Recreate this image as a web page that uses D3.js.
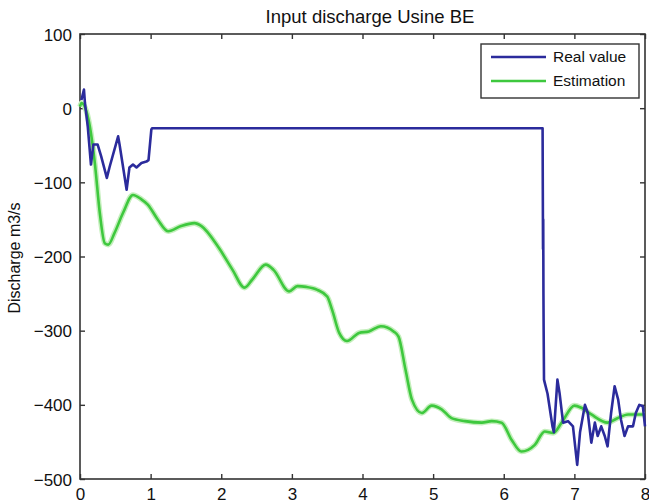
<!DOCTYPE html>
<html>
<head>
<meta charset="utf-8">
<script src="https://cdn.jsdelivr.net/npm/d3@7"></script>
<style>
  body { margin: 0; background: #fff; }
  text { font-family: "Liberation Sans", Arial, sans-serif; }
</style>
</head>
<body>
<script>
var width  = 649;
var height = 504;

// x ticks, y ticks
var xTicks = [0, 1, 2, 3, 4, 5, 6, 7, 8];
var yTicks = [100, 0, -100, -200, -300, -400, -500];

// Real value (time, discharge)
var realT = [0.02, 0.056, 0.07, 0.11, 0.155, 0.19, 0.25, 0.30, 0.38, 0.42, 0.54, 0.56, 0.66, 0.70, 0.75, 0.80, 0.87, 0.94, 0.97, 1.01, 1.02,
             6.55, 6.553, 6.556, 6.559, 6.562, 6.565, 6.57, 6.58, 6.62, 6.69, 6.71, 6.76, 6.79, 6.84, 6.91, 6.98, 7.04, 7.08, 7.15, 7.19,
             7.24, 7.29, 7.33, 7.38, 7.43, 7.47, 7.52, 7.57, 7.62, 7.66, 7.71, 7.76, 7.83, 7.87, 7.92, 7.97, 8.0];
var realV = [11, 25, 7, -25, -76, -49, -49, -65, -94, -79, -38, -49, -110, -80, -76, -80, -74, -72, -70, -29, -27,
             -27, -110, -190, -150, -250, -300, -366, -370, -385, -429, -437, -366, -384, -424, -422, -429, -481, -437, -400, -411,
             -451, -424, -442, -429, -442, -456, -411, -375, -393, -420, -442, -429, -429, -411, -400, -402, -429];

// Estimation (time, discharge)
var estT = [0.0, 0.02, 0.09, 0.14, 0.21, 0.28, 0.35, 0.40, 0.49, 0.61, 0.75, 0.87, 0.96, 1.10, 1.25, 1.43, 1.62, 1.72, 1.97,
            2.16, 2.33, 2.44, 2.63, 2.74, 2.96, 3.08, 3.20, 3.36, 3.50, 3.57, 3.67, 3.78, 3.95, 4.09, 4.26, 4.44, 4.51,
            4.61, 4.70, 4.84, 4.98, 5.12, 5.26, 5.45, 5.69, 5.83, 5.97, 6.11, 6.25, 6.44, 6.58, 6.70, 6.82, 7.0, 7.10,
            7.24, 7.47, 7.61, 7.76, 8.0];
var estV = [2, 7, -4, -25, -74, -141, -182, -184, -168, -141, -117, -123, -130, -150, -166, -159, -155, -159, -189,
            -218, -242, -231, -211, -218, -247, -240, -241, -245, -254, -272, -303, -314, -303, -301, -294, -301, -308,
            -353, -393, -411, -401, -406, -418, -422, -424, -422, -424, -447, -463, -454, -436, -438, -424, -401, -404,
            -413, -424, -418, -413, -413];

var seriesNames  = ['Real value', 'Estimation'];
var seriesColors = ['#2b2b9c', '#3ec83e'];

var mLeft = 80, mRight = 645, mTop = 34, mBottom = 479;

var x = d3.scaleLinear().domain([0, 8]).range([mLeft, mRight]);
var y = d3.scaleLinear().domain([-500, 100]).range([mBottom, mTop]);

var svg = d3.select('body')
            .append('svg')
            .attr('width', width)
            .attr('height', height);

var fmt = function(d){ return d < 0 ? '\u2212' + Math.abs(d) : String(d); };

// frame
svg.append('rect')
   .attr('x', mLeft).attr('y', mTop)
   .attr('width', mRight - mLeft).attr('height', mBottom - mTop)
   .attr('fill', 'none').attr('stroke', '#333').attr('stroke-width', 1.6);

// inward ticks, all four sides
var gx = svg.append('g').attr('transform', 'translate(0,' + mBottom + ')')
            .call(d3.axisBottom(x).tickValues(xTicks).tickSize(-5).tickPadding(9).tickFormat(fmt));
var gxt = svg.append('g').attr('transform', 'translate(0,' + mTop + ')')
             .call(d3.axisTop(x).tickValues(xTicks).tickSize(-5).tickFormat(''));
var gy = svg.append('g').attr('transform', 'translate(' + mLeft + ',0)')
            .call(d3.axisLeft(y).tickValues(yTicks).tickSize(-5).tickPadding(8).tickFormat(fmt));
var gyr = svg.append('g').attr('transform', 'translate(' + mRight + ',0)')
             .call(d3.axisRight(y).tickValues(yTicks).tickSize(-5).tickFormat(''));

[gx, gxt, gy, gyr].forEach(function(g){
  g.select('.domain').remove();
  g.selectAll('line').attr('stroke', '#333').attr('stroke-width', 1.4);
  g.selectAll('text').attr('fill', '#111').attr('font-size', '17px')
   .attr('font-family', '"Liberation Sans", Arial, sans-serif');
});
gx.selectAll('text').attr('y', 9).attr('dy', '0.71em');
gy.selectAll('text').attr('dy', '0.36em');

var estData  = estT.map(function(t, i){ return [t, estV[i]]; });
var realData = realT.map(function(t, i){ return [t, realV[i]]; });

var smooth = d3.line()
               .x(function(d){ return x(d[0]); })
               .y(function(d){ return y(d[1]); })
               .curve(d3.curveMonotoneX);
var line = d3.line()
             .x(function(d){ return x(d[0]); })
             .y(function(d){ return y(d[1]); });

// green halo then green line
svg.append('path').datum(estData).attr('d', smooth)
   .attr('fill', 'none').attr('stroke', '#c4efbc').attr('stroke-width', 5.5).attr('stroke-linejoin', 'round');
svg.append('path').datum(estData).attr('d', smooth)
   .attr('fill', 'none').attr('stroke', seriesColors[1]).attr('stroke-width', 2.6).attr('stroke-linejoin', 'round');

svg.append('path').datum(realData).attr('d', line)
   .attr('fill', 'none').attr('stroke', seriesColors[0]).attr('stroke-width', 2.6).attr('stroke-linejoin', 'round');

// title + y label
svg.append('text').attr('x', 370).attr('y', 23)
   .attr('text-anchor', 'middle').attr('font-size', '18.5px').attr('fill', '#111')
   .text('Input discharge Usine BE');

svg.append('text').attr('transform', 'translate(20,' + 258 + ') rotate(-90)')
   .attr('text-anchor', 'middle').attr('font-size', '16px').attr('fill', '#111')
   .text('Discharge m3/s');

// legend
var lg = svg.append('g').attr('transform', 'translate(481,44)');
lg.append('rect').attr('width', 158).attr('height', 54)
  .attr('fill', '#fff').attr('stroke', '#333').attr('stroke-width', 1.4);
seriesNames.forEach(function(name, i){
  var yy = 13 + i * 24;
  lg.append('line').attr('x1', 10).attr('x2', 65).attr('y1', yy).attr('y2', yy)
    .attr('stroke', seriesColors[i]).attr('stroke-width', 2.6);
  lg.append('text').attr('x', 72).attr('y', yy + 5).attr('font-size', '15.5px').attr('fill', '#111')
    .text(name);
});
</script>
</body>
</html>
